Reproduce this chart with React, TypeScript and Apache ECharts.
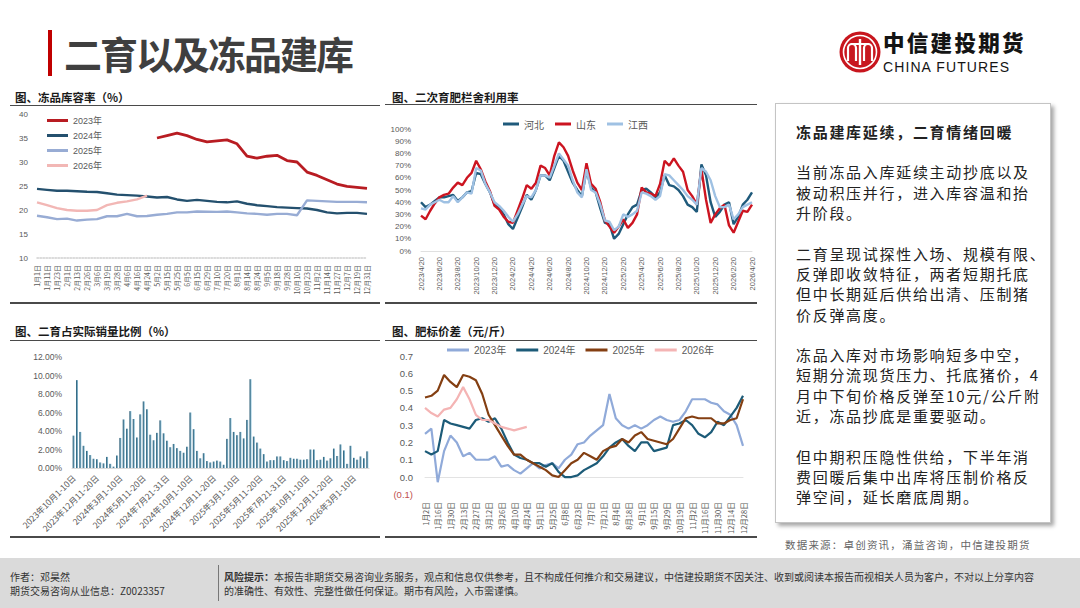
import { useEffect, useRef } from 'react'
import type { CSSProperties } from 'react'
import * as echarts from 'echarts'

const CJK = "'Noto Sans CJK SC', sans-serif"
const NUM = "'Liberation Sans', 'Noto Sans CJK SC', sans-serif"
const LABEL = '#595959'

// 图、冻品库容率（%）
const STOCK_DATES = [
  '1月1日', '1月11日', '1月23日', '2月1日', '2月13日', '2月26日', '3月6日', '3月19日', '3月28日',
  '4月6日', '4月16日', '4月24日', '5月2日', '5月15日', '5月25日', '6月5日', '6月15日', '6月29日',
  '7月10日', '7月20日', '8月1日', '8月14日', '8月24日', '9月5日', '9月18日', '9月28日', '10月10日',
  '10月23日', '11月2日', '11月14日', '11月27日', '12月7日', '12月19日', '12月31日',
]
const STOCK_2023 = [
  null, null, null, null, null, null, null, null, null, null, null, null,
  35.0, 35.5, 36.0, 35.5, 34.7, 34.2, 34.4, 34.6, 33.8, 31.2, 30.8, 31.2, 31.4, 30.3, 30.0,
  27.9, 27.2, 26.3, 25.4, 24.9, 24.7, 24.5,
]
const STOCK_2024 = [
  24.4, 24.2, 24.0, 24.0, 23.9, 23.8, 23.75, 23.5, 23.2, 23.1, 23.0, 22.8, 22.6, 22.7, 22.2, 21.9,
  22.1, 21.9, 21.7, 21.6, 21.8, 21.3, 21.0, 20.8, 20.6, 20.5, 20.4, 20.3, 20.0, 19.5, 19.3, 19.4,
  19.4, 19.2,
]
const STOCK_2025 = [
  18.8, 18.5, 18.1, 18.2, 17.8, 18.0, 18.1, 18.7, 18.7, 19.2, 18.7, 18.75, 19.0, 19.2, 19.5, 19.5,
  19.7, 19.65, 19.6, 19.7, 19.5, 19.3, 19.2, 19.0, 19.2, 19.2, 18.9, 22.0, 21.9, 21.8, 21.7, 21.7,
  21.7, 21.6,
]
const STOCK_2026 = [21.6, 21.0, 20.4, 20.0, 19.85, 19.85, 20.0, 21.0, 21.5, 21.8, 22.2, 23.0]

// 图、二次育肥栏舍利用率
const PEN_DATES = [
  '2023/4/20', '2023/5/5', '2023/5/20', '2023/6/5', '2023/6/20', '2023/7/5', '2023/7/20', '2023/8/5',
  '2023/8/20', '2023/9/5', '2023/9/20', '2023/10/5', '2023/10/20', '2023/11/5', '2023/11/20',
  '2023/12/5', '2023/12/20', '2024/1/5', '2024/1/20', '2024/2/5', '2024/2/20', '2024/3/5',
  '2024/3/20', '2024/4/5', '2024/4/20', '2024/5/5', '2024/5/20', '2024/6/5', '2024/6/20',
  '2024/7/5', '2024/7/20', '2024/8/5', '2024/8/20', '2024/9/5', '2024/9/20', '2024/10/5',
  '2024/10/20', '2024/11/5', '2024/11/20', '2024/12/5', '2024/12/20', '2025/1/5', '2025/1/20',
  '2025/2/5', '2025/2/20', '2025/3/5', '2025/3/20', '2025/4/5', '2025/4/20', '2025/5/5',
  '2025/5/20', '2025/6/5', '2025/6/20', '2025/7/5', '2025/7/20', '2025/8/5', '2025/8/20',
  '2025/9/5', '2025/9/20', '2025/10/5', '2025/10/20', '2025/11/5', '2025/11/20', '2025/12/5',
  '2025/12/20', '2026/1/5', '2026/1/20', '2026/2/5', '2026/2/20', '2026/3/5', '2026/3/20',
  '2026/4/5', '2026/4/20',
]
const PEN_HEBEI = [
  40, 36, 38, 41, 44, 44, 45, 46, 41, 44, 48, 49, 64, 63, 55, 48, 38, 35, 30, 22,
  18, 27, 36, 46, 42, 50, 62, 62, 58, 68, 78, 74, 65, 56, 50, 45, 66, 52, 48, 35,
  23, 22, 10, 14, 22, 30, 36, 38, 50, 51, 48, 44, 48, 62, 54, 53, 50, 45, 38, 36,
  32, 71, 62, 40, 28, 32, 38, 40, 22, 28, 38, 42, 48,
]
const PEN_SHANDONG = [
  29, 26, 33, 39, 44, 46, 47, 52, 56, 54, 60, 64, 74, 67, 57, 49, 37, 34, 28, 24,
  23, 33, 43, 54, 51, 56, 70, 68, 62, 78, 89, 85, 78, 66, 56, 50, 72, 55, 51, 40,
  25, 20, 15, 20, 26, 19, 23, 30, 52, 48, 47, 45, 55, 74, 70, 76, 70, 65, 50, 45,
  38, 67, 42, 23, 30, 35, 38, 21, 15, 24, 33, 32, 38,
]
const PEN_JIANGXI = [
  35, 34, 38, 40, 42, 40, 40, 45, 40, 44, 48, 47, 68, 66, 55, 48, 40, 37, 33, 28,
  24, 30, 38, 45, 44, 50, 62, 62, 60, 70, 80, 75, 70, 58, 48, 44, 67, 50, 48, 38,
  25, 24, 17, 20, 30, 28, 30, 33, 48, 47, 45, 42, 45, 63, 62, 58, 54, 50, 45, 42,
  38, 68, 65, 58, 45, 36, 36, 38, 26, 30, 36, 38, 40,
]

// 图、二育占实际销量比例（%）
const SHARE_PERIODS = [
  '2023年10月1-10日', '2023年10月11-20日', '2023年10月21-31日', '2023年11月1-10日', '2023年11月11-20日',
  '2023年11月21-30日', '2023年12月1-10日', '2023年12月11-20日', '2023年12月21-31日', '2024年1月1-10日',
  '2024年1月11-20日', '2024年1月21-31日', '2024年2月1-10日', '2024年2月21-29日', '2024年3月1-10日',
  '2024年3月11-20日', '2024年3月21-31日', '2024年4月1-10日', '2024年4月11-20日', '2024年4月21-30日',
  '2024年5月1-10日', '2024年5月11-20日', '2024年5月21-31日', '2024年6月1-10日', '2024年6月11-20日',
  '2024年6月21-30日', '2024年7月1-10日', '2024年7月11-20日', '2024年7月21-31日', '2024年8月1-10日',
  '2024年8月11-20日', '2024年8月21-31日', '2024年9月1-10日', '2024年9月11-20日', '2024年9月21-30日',
  '2024年10月1-10日', '2024年10月11-20日', '2024年10月21-31日', '2024年11月1-10日', '2024年11月11-20日',
  '2024年11月21-30日', '2024年12月1-10日', '2024年12月11-20日', '2024年12月21-31日', '2025年1月1-10日',
  '2025年1月11-20日', '2025年1月21-31日', '2025年2月1-10日', '2025年2月21-28日', '2025年3月1-10日',
  '2025年3月11-20日', '2025年3月21-31日', '2025年4月1-10日', '2025年4月11-20日', '2025年4月21-30日',
  '2025年5月1-10日', '2025年5月11-20日', '2025年5月21-31日', '2025年6月1-10日', '2025年6月11-20日',
  '2025年6月21-30日', '2025年7月1-10日', '2025年7月11-20日', '2025年7月21-31日', '2025年8月1-10日',
  '2025年8月11-20日', '2025年8月21-31日', '2025年9月1-10日', '2025年9月11-20日', '2025年9月21-30日',
  '2025年10月1-10日', '2025年10月11-20日', '2025年10月21-31日', '2025年11月1-10日', '2025年11月11-20日',
  '2025年11月21-30日', '2025年12月1-10日', '2025年12月11-20日', '2025年12月21-31日', '2026年1月1-10日',
  '2026年1月11-20日', '2026年1月21-31日', '2026年2月1-10日', '2026年2月21-28日', '2026年3月1-10日',
  '2026年3月11-20日', '2026年3月21-31日', '2026年4月1-10日', '2026年4月11-20日',
]
const SHARE_VALUES = [
  3.5, 9.5, 3.9, 2.4, 1.85, 1.4, 1.0, 0.95, 0.6, 0.5, 1.2, 0.45, 0.15, 1.35, 3.25, 5.25, 4.25,
  6.15, 5.3, 3.3, 5.8, 7.2, 6.35, 3.6, 3.0, 3.8, 5.15, 3.75, 2.95, 2.25, 2.6, 2.15, 1.85, 1.65,
  2.3, 6.0, 4.2, 1.85, 1.05, 1.6, 0.75, 0.6, 0.7, 0.8, 0.7, 0.35, 3.15, 5.4, 3.9, 3.55, 3.9, 3.2,
  5.2, 9.6, 3.4, 2.75, 2.1, 1.5, 0.7, 0.85, 0.85, 1.25, 1.25, 0.85, 0.75, 1.1, 1.0, 1.0, 0.9, 0.9,
  0.95, 2.0, 2.0, 0.85, 0.9, 1.2, 0.8, 1.05, 2.1, 1.3, 2.55, 1.9, 0.45, 2.4, 1.1, 0.9, 1.25, 1.05,
  1.8,
]

// 图、肥标价差（元/斤）
const SPREAD_DATES = [
  '1月2日', '1月9日', '1月16日', '1月23日', '1月30日', '2月6日', '2月13日', '2月20日', '2月27日',
  '3月5日', '3月12日', '3月19日', '3月26日', '4月3日', '4月10日', '4月17日', '4月24日', '5月4日',
  '5月11日', '5月18日', '5月25日', '6月1日', '6月8日', '6月16日', '6月23日', '6月30日', '7月7日',
  '7月14日', '7月21日', '7月28日', '8月4日', '8月11日', '8月18日', '8月25日', '9月1日', '9月8日',
  '9月15日', '9月22日', '9月29日', '10月12日', '10月19日', '10月26日', '11月2日', '11月9日',
  '11月16日', '11月23日', '11月30日', '12月7日', '12月14日', '12月21日', '12月28日',
]
const SPREAD_2023 = [
  0.25, 0.28, -0.03, 0.15, 0.24, 0.2, 0.12, 0.14, 0.1, 0.1, 0.1, 0.12, 0.06, 0.07, 0.04, 0.02,
  0.05, 0.08, 0.05, 0.07, 0.08, 0.05, 0.1, 0.13, 0.19, 0.2, 0.24, 0.27, 0.3, 0.48, 0.34, 0.3, 0.28,
  0.3, 0.28, 0.3, 0.33, 0.35, 0.33, 0.32, 0.33, 0.38, 0.45, 0.45, 0.45, 0.43, 0.42, 0.38, 0.36,
  0.3, 0.18,
]
const SPREAD_2024 = [
  0.15, 0.13, 0.15, 0.33, 0.31, 0.3, 0.29, 0.28, 0.33, 0.34, 0.32, 0.34, 0.28, 0.2, 0.13, 0.11,
  0.1, 0.08, 0.08, 0.06, 0.08, 0.03, 0.0, 0.0, 0.01, 0.04, 0.06, 0.08, 0.12, 0.17, 0.2, 0.22, 0.18,
  0.15, 0.2, 0.2, 0.15, 0.16, 0.17, 0.3, 0.31, 0.33, 0.3, 0.25, 0.23, 0.26, 0.32, 0.3, 0.35, 0.4,
  0.47,
]
const SPREAD_2025 = [
  0.46, 0.47, 0.5, 0.59, 0.55, 0.52, 0.59, 0.58, 0.56, 0.48, 0.36, 0.3, 0.24, 0.18, 0.13, 0.13,
  0.1, 0.08, 0.06, 0.04, 0.01, 0.0, 0.04, 0.08, 0.1, 0.14, 0.12, 0.1, 0.15, 0.17, 0.18, 0.22, 0.2,
  0.24, 0.26, 0.22, 0.21, 0.2, 0.19, 0.22, 0.28, 0.34, 0.35, 0.34, 0.34, 0.34, 0.31, 0.31, 0.33,
  0.34, 0.45,
]
const SPREAD_2026 = [
  0.4, 0.37, 0.35, 0.39, 0.4, 0.45, 0.52, 0.45, 0.36, 0.33, 0.33, 0.31, 0.29, 0.28, 0.27, 0.28, 0.29,
]

const NOTE_TITLE = '冻品建库延续，二育情绪回暖'
const NOTE_PARAGRAPHS = [
  ['当前冻品入库延续主动抄底以及', '被动积压并行，进入库容温和抬', '升阶段。'],
  ['二育呈现试探性入场、规模有限、', '反弹即收敛特征，两者短期托底', '但中长期延后供给出清、压制猪', '价反弹高度。'],
  ['冻品入库对市场影响短多中空，', '短期分流现货压力、托底猪价，4', '月中下旬价格反弹至10元/公斤附', '近，冻品抄底是重要驱动。'],
  ['但中期积压隐性供给，下半年消', '费回暖后集中出库将压制价格反', '弹空间，延长磨底周期。'],
]

function line(name: string, data: (number | null)[], color: string, width: number) {
  return {
    name,
    type: 'line' as const,
    data,
    symbol: 'none',
    lineStyle: { color, width },
    itemStyle: { color },
  }
}

const hiddenY = { axisLine: { show: false }, axisTick: { show: false }, splitLine: { show: false } }

const stockOption: echarts.EChartsOption = {
  animation: false,
  grid: { left: 37, right: 13, top: 8, bottom: 44 },
  legend: {
    orient: 'vertical',
    left: 47,
    top: 9,
    padding: 0,
    icon: 'rect',
    itemWidth: 21,
    itemHeight: 3,
    itemGap: 4,
    textStyle: { fontSize: 9, lineHeight: 11, color: LABEL, fontFamily: NUM },
  },
  xAxis: {
    type: 'category',
    data: STOCK_DATES,
    boundaryGap: false,
    axisLine: { lineStyle: { color: '#d0d0d0', type: 'dotted', width: 1.5 } },
    axisTick: { show: false },
    axisLabel: { interval: 0, rotate: 90, fontSize: 7, color: LABEL, margin: 7, fontFamily: CJK },
  },
  yAxis: {
    type: 'value',
    min: 10,
    max: 40,
    interval: 5,
    ...hiddenY,
    axisLabel: { fontSize: 8, color: LABEL, margin: 9, fontFamily: NUM },
  },
  series: [
    line('2023年', STOCK_2023, '#b81c22', 2.8),
    line('2024年', STOCK_2024, '#24506e', 2.4),
    line('2025年', STOCK_2025, '#98acd4', 2.4),
    line('2026年', STOCK_2026, '#f2b7b5', 2.4),
  ],
}

const penOption: echarts.EChartsOption = {
  animation: false,
  grid: { left: 36, right: 8, top: 24, bottom: 51 },
  legend: {
    left: 118,
    top: 13,
    padding: 0,
    icon: 'rect',
    itemWidth: 16,
    itemHeight: 3,
    itemGap: 11,
    textStyle: { fontSize: 10, lineHeight: 12, color: LABEL, fontFamily: CJK },
  },
  xAxis: {
    type: 'category',
    data: PEN_DATES,
    boundaryGap: false,
    axisLine: { lineStyle: { color: '#e0e0e0' } },
    axisTick: { show: false },
    axisLabel: { interval: 3, rotate: 90, fontSize: 7.5, color: LABEL, margin: 6, fontFamily: NUM },
  },
  yAxis: {
    type: 'value',
    min: 0,
    max: 100,
    interval: 10,
    ...hiddenY,
    axisLabel: { fontSize: 8, color: LABEL, margin: 10, fontFamily: NUM, formatter: '{value}%' },
  },
  series: [
    line('河北', PEN_HEBEI, '#1f5a7b', 2.4),
    line('山东', PEN_SHANDONG, '#cc1420', 2.4),
    line('江西', PEN_JIANGXI, '#9fc1e3', 2.4),
  ],
}

const shareOption: echarts.EChartsOption = {
  animation: false,
  grid: { left: 72, right: 11, top: 15, bottom: 69 },
  xAxis: {
    type: 'category',
    data: SHARE_PERIODS,
    axisLine: { lineStyle: { color: '#d9d9d9' } },
    axisTick: { show: false },
    axisLabel: { interval: 6, rotate: 45, fontSize: 8.5, color: LABEL, margin: 8, fontFamily: CJK },
  },
  yAxis: {
    type: 'value',
    min: 0,
    max: 12,
    interval: 2,
    ...hiddenY,
    axisLabel: {
      fontSize: 8.5,
      color: LABEL,
      margin: 10,
      fontFamily: NUM,
      formatter: (v: number) => `${v.toFixed(2)}%`,
    },
  },
  series: [
    {
      type: 'bar',
      data: SHARE_VALUES,
      barWidth: 2,
      itemStyle: {
        color: new echarts.graphic.LinearGradient(0, 0, 1, 0, [
          { offset: 0, color: '#174d68' },
          { offset: 1, color: '#9ccbe0' },
        ]),
      },
    },
  ],
}

const spreadOption: echarts.EChartsOption = {
  animation: false,
  grid: { left: 40, right: 17, top: 14, bottom: 28 },
  legend: {
    left: 62,
    top: 2,
    padding: 0,
    icon: 'rect',
    itemWidth: 22,
    itemHeight: 3,
    itemGap: 10,
    textStyle: { fontSize: 10, lineHeight: 12, color: LABEL, fontFamily: NUM },
  },
  xAxis: {
    type: 'category',
    data: SPREAD_DATES,
    boundaryGap: false,
    axisLine: { onZero: true, lineStyle: { color: '#e3e3e3' } },
    axisTick: { show: false },
    axisLabel: { interval: 1, rotate: 90, fontSize: 7.5, color: LABEL, margin: 8, fontFamily: CJK },
  },
  yAxis: {
    type: 'value',
    min: -0.1,
    max: 0.7,
    interval: 0.1,
    ...hiddenY,
    axisLabel: {
      fontSize: 9.5,
      margin: 12,
      fontFamily: NUM,
      color: ((v: number | string) => (Number(v) < 0 ? '#c0504d' : LABEL)) as any,
      formatter: (v: number) => (v < 0 ? `(${Math.abs(v).toFixed(1)})` : v.toFixed(1)),
    },
  },
  series: [
    line('2023年', SPREAD_2023, '#90aad9', 2.2),
    line('2024年', SPREAD_2024, '#1c5b78', 2.2),
    line('2025年', SPREAD_2025, '#843f12', 2.2),
    line('2026年', SPREAD_2026, '#f4b4b4', 2.2),
  ],
}

function EChart({ option, style }: { option: echarts.EChartsOption; style: CSSProperties }) {
  const ref = useRef<HTMLDivElement>(null)
  useEffect(() => {
    if (!ref.current) return
    const chart = echarts.init(ref.current, null, { renderer: 'svg' })
    chart.setOption(option)
    return () => chart.dispose()
  }, [option])
  return <div ref={ref} style={{ position: 'absolute', ...style }} />
}

function PanelTitle({ text, left, top }: { text: string; left: number; top: number }) {
  return (
    <div
      style={{
        position: 'absolute',
        left,
        top,
        fontSize: 11.5,
        lineHeight: '14px',
        fontWeight: 700,
        color: '#1a1a1a',
        whiteSpace: 'nowrap',
      }}
    >
      {text}
    </div>
  )
}

function Rule({ left, top, width, weight }: { left: number; top: number; width: number; weight: number }) {
  return <div style={{ position: 'absolute', left, top, width, height: weight, background: '#4a4a4a' }} />
}

function Logo() {
  return (
    <svg width="42" height="42" viewBox="0 0 42 42" style={{ position: 'absolute', left: 839, top: 31 }}>
      <circle cx="21" cy="21" r="20.5" fill="#c8161e" />
      <circle cx="21" cy="21" r="16.5" fill="none" stroke="#fff" strokeWidth="1.6" />
      <path d="M9 30 V17 a4 4 0 0 1 8 0 V30" fill="none" stroke="#fff" strokeWidth="2.2" />
      <path d="M25 30 V17 a4 4 0 0 1 8 0 V30" fill="none" stroke="#fff" strokeWidth="2.2" />
      <rect x="19.8" y="8" width="2.4" height="26" fill="#fff" />
      <rect x="12" y="12" width="18" height="2" fill="#fff" />
    </svg>
  )
}

export default function App() {
  const lineH = 20.3
  const noteLines: string[] = [NOTE_TITLE, '']
  NOTE_PARAGRAPHS.forEach((p, i) => {
    noteLines.push(...p)
    if (i < NOTE_PARAGRAPHS.length - 1) noteLines.push('')
  })

  return (
    <div
      style={{
        position: 'absolute',
        left: 0,
        top: 0,
        width: 1080,
        height: 608,
        background: '#ffffff',
        overflow: 'hidden',
        fontFamily: CJK,
      }}
    >
      {/* header */}
      <div style={{ position: 'absolute', left: 48, top: 30, width: 4, height: 46, background: '#c00000' }} />
      <div
        style={{
          position: 'absolute',
          left: 64,
          top: 32,
          fontSize: 38,
          lineHeight: '42px',
          fontWeight: 700,
          letterSpacing: -2,
          color: '#3f3f3f',
          whiteSpace: 'nowrap',
        }}
      >
        二育以及冻品建库
      </div>
      <Logo />
      <div
        style={{
          position: 'absolute',
          left: 883,
          top: 30,
          fontSize: 21.5,
          lineHeight: '24px',
          fontWeight: 900,
          letterSpacing: 2.3,
          color: '#141414',
          whiteSpace: 'nowrap',
        }}
      >
        中信建投期货
      </div>
      <div
        style={{
          position: 'absolute',
          left: 883,
          top: 60,
          fontSize: 14,
          lineHeight: '14px',
          fontFamily: NUM,
          letterSpacing: 1.1,
          color: '#141414',
          whiteSpace: 'nowrap',
        }}
      >
        CHINA FUTURES
      </div>

      {/* chart panels */}
      <PanelTitle text="图、冻品库容率（%）" left={15} top={90} />
      <Rule left={10} top={105} width={370} weight={1.2} />
      <EChart option={stockOption} style={{ left: 0, top: 106, width: 380, height: 196 }} />
      <Rule left={10} top={302} width={370} weight={1.6} />

      <PanelTitle text="图、二次育肥栏舍利用率" left={392} top={90} />
      <Rule left={385} top={104} width={372} weight={1.2} />
      <EChart option={penOption} style={{ left: 385, top: 105, width: 375, height: 197 }} />
      <Rule left={385} top={302} width={372} weight={1.6} />

      <PanelTitle text="图、二育占实际销量比例（%）" left={15} top={324} />
      <Rule left={10} top={340} width={370} weight={1.2} />
      <EChart option={shareOption} style={{ left: 0, top: 342, width: 380, height: 195 }} />
      <Rule left={10} top={536} width={370} weight={1.6} />

      <PanelTitle text="图、肥标价差（元/斤）" left={392} top={324} />
      <Rule left={385} top={340} width={372} weight={1.2} />
      <EChart option={spreadOption} style={{ left: 385, top: 342, width: 375, height: 195 }} />
      <Rule left={385} top={536} width={372} weight={1.6} />

      {/* note box */}
      <div
        style={{
          position: 'absolute',
          left: 775,
          top: 103,
          width: 274,
          height: 418,
          border: '1px solid #c4c4c4',
          boxShadow: '3px 3px 4px rgba(0,0,0,0.35)',
          background: '#fff',
        }}
      />
      <div style={{ position: 'absolute', left: 796, top: 132 - lineH / 2 }}>
        {noteLines.map((t, i) => (
          <div
            key={i}
            style={{
              height: lineH,
              lineHeight: `${lineH}px`,
              fontSize: 15,
              letterSpacing: 1.7,
              fontWeight: i === 0 ? 700 : 400,
              color: '#222',
              whiteSpace: 'nowrap',
            }}
          >
            {t}
          </div>
        ))}
      </div>
      <div
        style={{
          position: 'absolute',
          left: 785,
          top: 538,
          fontSize: 10.5,
          lineHeight: '14px',
          letterSpacing: 1.2,
          color: '#666',
          whiteSpace: 'nowrap',
        }}
      >
        数据来源：卓创资讯，涌益咨询，中信建投期货
      </div>

      {/* footer */}
      <div style={{ position: 'absolute', left: 0, top: 558, width: 1080, height: 50, background: '#dadada' }} />
      <div
        style={{
          position: 'absolute',
          left: 10,
          top: 570,
          fontSize: 10,
          lineHeight: '14px',
          color: '#333',
          whiteSpace: 'nowrap',
        }}
      >
        <div>作者：邓昊然</div>
        <div>期货交易咨询从业信息：Z0023357</div>
      </div>
      <div style={{ position: 'absolute', left: 218, top: 565, width: 1, height: 36, background: '#777' }} />
      <div
        style={{
          position: 'absolute',
          left: 224,
          top: 570,
          fontSize: 10,
          lineHeight: '14px',
          color: '#333',
          whiteSpace: 'nowrap',
        }}
      >
        <div>
          <b>风险提示：</b>
          本报告非期货交易咨询业务服务，观点和信息仅供参考，且不构成任何推介和交易建议，中信建投期货不因关注、收到或阅读本报告而视相关人员为客户，不对以上分享内容
        </div>
        <div>的准确性、有效性、完整性做任何保证。期市有风险，入市需谨慎。</div>
      </div>
    </div>
  )
}
